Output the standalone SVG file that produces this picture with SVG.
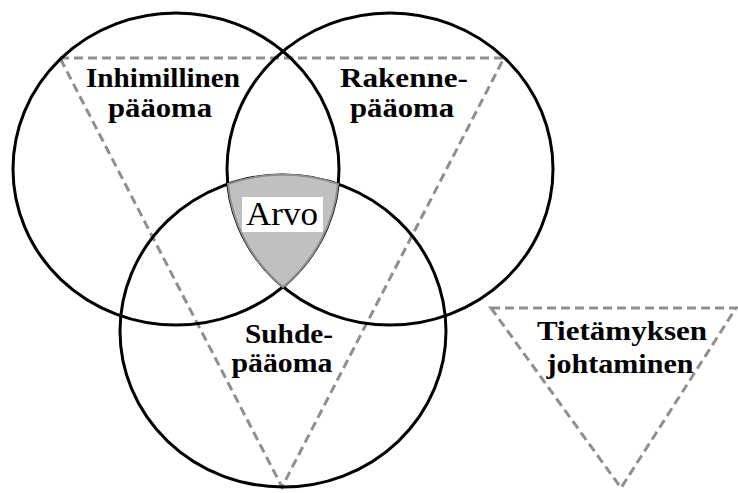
<svg xmlns="http://www.w3.org/2000/svg" width="738" height="493" viewBox="0 0 738 493">
<style>
.c{fill:none;stroke:#000;stroke-width:3}
.d{fill:none;stroke:#8f8f8f;stroke-width:3;stroke-dasharray:9 5}
.t{font-family:"Liberation Serif","Times New Roman",serif;font-weight:bold;font-size:28px;fill:#000;text-anchor:middle}
</style>
<rect width="738" height="493" fill="#fff"/>
<g id="connectors">
<polygon class="d" points="60,58 504,58 282,487"/>
</g>
<g id="inhimillinen">
<ellipse class="c" cx="176" cy="169" rx="163" ry="156"/>
<text class="t" x="163" y="87" textLength="154" lengthAdjust="spacingAndGlyphs">Inhimillinen</text>
<text class="t" x="160" y="117" textLength="104" lengthAdjust="spacingAndGlyphs">pääoma</text>
</g>
<g id="rakenne">
<ellipse class="c" cx="390" cy="169" rx="163" ry="156"/>
<text class="t" x="404" y="87" textLength="128" lengthAdjust="spacingAndGlyphs">Rakenne-</text>
<text class="t" x="402" y="117" textLength="104" lengthAdjust="spacingAndGlyphs">pääoma</text>
</g>
<g id="suhde">
<ellipse class="c" cx="283" cy="331" rx="163" ry="156"/>
<text class="t" x="289" y="343" textLength="88" lengthAdjust="spacingAndGlyphs">Suhde-</text>
<text class="t" x="282" y="372" textLength="101" lengthAdjust="spacingAndGlyphs">pääoma</text>
</g>
<g id="arvo">
<path d="M228,184 A163,156 0 0 1 338,184 A163,156 0 0 1 283,287 A163,156 0 0 1 228,184 Z" fill="#c0c0c0" stroke="#8f8f8f" stroke-width="2"/>
<rect x="242" y="197" width="81" height="35" fill="#fff"/>
<text x="282" y="225" font-family="'Liberation Serif','Times New Roman',serif" font-size="33" text-anchor="middle" textLength="72" lengthAdjust="spacingAndGlyphs">Arvo</text>
</g>
<g id="tietamyksen">
<polygon class="d" points="491,308 736,308 621,488"/>
<text class="t" x="622" y="340" textLength="170" lengthAdjust="spacingAndGlyphs">Tietämyksen</text>
<text class="t" x="620" y="373" textLength="147" lengthAdjust="spacingAndGlyphs">johtaminen</text>
</g>
</svg>
